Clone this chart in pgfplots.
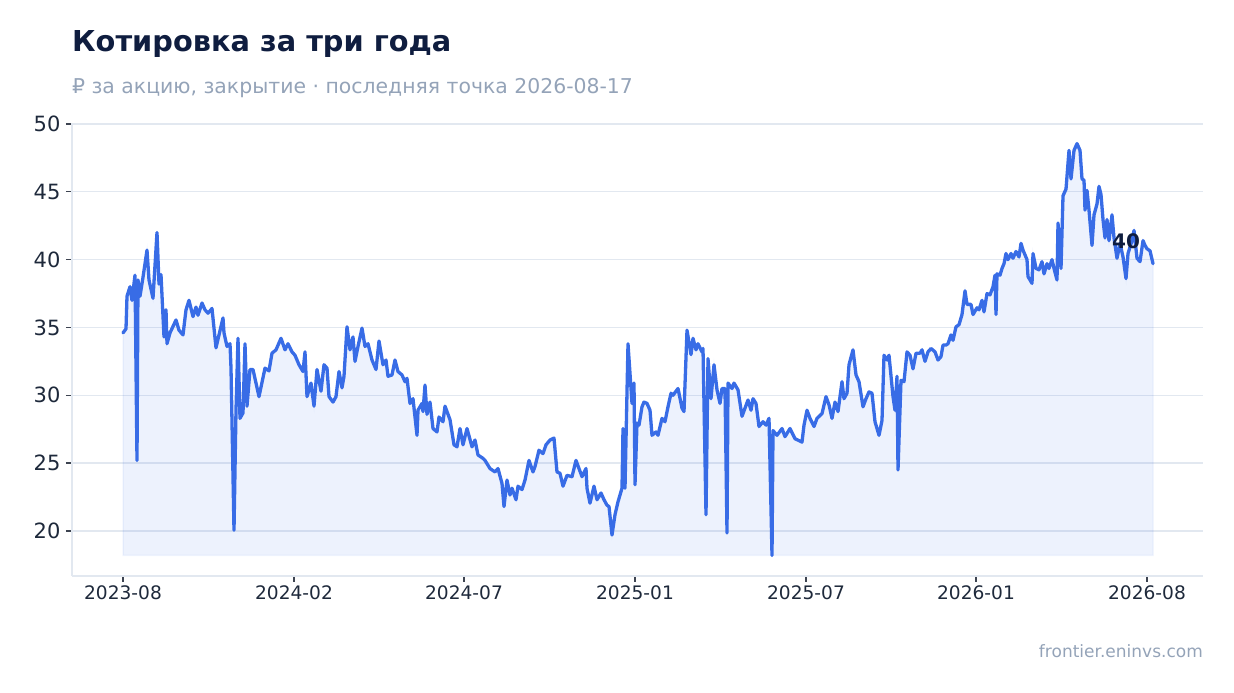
\documentclass[border=0pt]{standalone}
\usepackage{fontspec}
\setmainfont{DejaVu Sans}
\usepackage{pgfplots}
\pgfplotsset{compat=1.18}
\usepackage{pgfplotstable}

\definecolor{lineblue}{HTML}{386CE6}
\definecolor{titlec}{HTML}{0F1D3F}
\definecolor{mutedc}{HTML}{94A3B8}
\definecolor{labelc}{HTML}{1E293B}
\definecolor{gridc}{HTML}{E2E8F0}
\definecolor{tickc}{HTML}{3D4451}

% closing price; x = trading-day position along the axis
\pgfplotstableread{
x y
0 34.6
3 34.9
4 37.3
7 38.0
9 37.0
12 38.85
14 25.2
15 38.5
17 37.3
20 38.7
24 40.7
26 38.5
30 37.15
34 42.0
36 38.2
38 38.9
41 34.3
43 36.3
44 33.8
47 34.6
53 35.55
56 34.8
60 34.45
63 36.3
66 37.0
70 35.8
73 36.5
75 35.9
79 36.8
82 36.3
85 36.05
89 36.4
93 33.5
96 34.45
100 35.7
101 34.6
104 33.6
107 33.8
108 32.0
111 20.05
113 28.9
115 34.2
117 28.3
120 28.7
122 33.8
124 29.2
127 31.9
130 31.9
133 30.9
136 29.9
142 32.0
146 31.8
149 33.1
153 33.35
158 34.2
162 33.35
165 33.8
169 33.2
172 32.95
176 32.25
180 31.75
182 33.2
184 29.9
188 30.9
191 29.2
194 31.9
198 30.3
201 32.25
204 32.0
206 29.9
210 29.5
213 29.9
216 31.75
219 30.55
221 31.4
224 35.05
227 33.35
230 34.3
232 32.5
235 33.6
239 34.95
242 33.6
245 33.8
249 32.6
253 31.9
256 34.0
260 32.25
263 32.6
265 31.4
269 31.5
272 32.6
275 31.75
279 31.5
282 31.0
284 31.25
287 29.4
290 29.75
294 27.05
295 28.9
299 29.4
300 28.8
302 30.75
304 28.6
307 29.5
310 27.55
314 27.3
316 28.4
320 28.05
322 29.2
327 28.2
331 26.35
334 26.2
337 27.55
340 26.35
344 27.55
349 26.2
352 26.7
355 25.6
360 25.35
362 25.2
367 24.6
372 24.35
375 24.6
379 23.5
381 21.8
384 23.75
387 22.65
389 23.15
393 22.3
395 23.3
399 23.05
402 23.75
406 25.2
410 24.35
412 24.75
416 25.95
420 25.7
423 26.35
427 26.7
431 26.85
434 24.35
437 24.25
440 23.3
444 24.1
449 24.0
453 25.2
456 24.6
459 24.0
463 24.6
464 23.15
467 22.05
471 23.3
474 22.3
478 22.8
481 22.3
484 21.9
486 21.8
489 19.7
492 21.2
495 22.15
499 23.15
500 27.55
502 23.15
505 33.8
509 29.4
511 30.9
512 23.4
514 27.95
516 27.8
519 29.15
521 29.5
524 29.4
527 28.9
529 27.05
533 27.3
535 27.05
539 28.3
542 28.05
545 29.15
548 30.15
550 30.0
555 30.5
559 29.05
561 28.8
564 34.8
568 33.0
570 34.2
573 33.35
575 33.8
579 33.2
580 33.45
583 21.2
585 32.7
588 29.75
591 32.25
594 30.4
597 29.4
599 30.5
602 30.5
604 19.85
605 30.9
609 30.5
611 30.9
615 30.4
619 28.45
622 29.05
625 29.65
628 28.9
630 29.75
633 29.4
636 27.7
640 28.05
643 27.8
646 28.3
649 18.2
650 27.4
654 27.05
659 27.55
662 26.95
667 27.55
672 26.8
679 26.55
681 27.8
684 28.9
687 28.3
691 27.7
694 28.3
699 28.65
703 29.9
706 29.3
709 28.3
712 29.5
715 28.8
719 31.0
721 29.75
724 30.15
726 32.25
730 33.35
733 31.5
736 31.0
740 29.15
743 29.75
746 30.25
749 30.15
752 28.05
756 27.05
759 28.15
761 32.95
764 32.6
766 32.95
770 29.9
772 28.9
774 31.4
775 24.5
778 31.1
781 31.0
784 33.2
787 32.95
790 31.95
793 33.1
797 33.1
799 33.35
802 32.5
805 33.2
808 33.45
812 33.2
815 32.6
818 32.85
820 33.7
823 33.7
825 33.8
828 34.45
830 34.05
833 35.05
836 35.2
839 35.95
842 37.7
844 36.7
848 36.7
850 35.95
854 36.45
856 36.3
859 37.0
861 36.15
864 37.5
867 37.4
870 38.0
872 38.85
873 35.95
874 38.95
877 38.85
879 39.35
881 39.7
883 40.45
885 40.0
888 40.45
890 40.1
893 40.6
896 40.2
898 41.2
900 40.7
904 40.0
905 38.75
909 38.25
910 40.45
913 39.35
916 39.25
919 39.85
921 38.95
924 39.7
926 39.35
929 40.0
931 39.35
934 38.5
935 42.7
938 39.35
940 44.7
943 45.2
946 48.05
948 45.95
951 48.05
954 48.55
957 48.05
959 45.95
961 45.85
962 43.65
964 45.1
966 43.65
969 41.05
971 43.3
974 44.1
976 45.4
978 44.8
980 42.95
982 41.6
984 42.95
986 41.4
989 43.3
991 41.6
994 40.1
997 41.2
1000 40.2
1003 38.6
1005 40.45
1009 41.4
1011 42.15
1014 40.1
1017 39.85
1020 41.4
1022 41.05
1024 40.8
1027 40.65
1030 39.7
}\pricetable

\begin{document}
\begin{tikzpicture}
\useasboundingbox (0pt,0pt) rectangle (1234pt,693pt);

\node[anchor=base west, inner sep=0pt, text=titlec,
      font=\fontsize{28.8}{34}\selectfont\bfseries] at (72pt,641pt) {Котировка за три года};
\node[anchor=base west, inner sep=0pt, text=mutedc,
      font=\fontsize{20.4}{24}\selectfont] at (72pt,599pt) {₽ за акцию, закрытие · последняя точка 2026-08-17};
\node[anchor=base east, inner sep=0pt, text=mutedc,
      font=\fontsize{17}{20}\selectfont] at (1203pt,35pt) {frontier.eninvs.com};

\begin{axis}[
  at={(72pt,117pt)}, anchor=south west,
  scale only axis, width=1131pt, height=453.4pt,
  xmin=-51, xmax=1080, ymin=16.68, ymax=50.1,
  axis lines=left,
  axis line style={draw=gridc, line width=1.4pt, -},
  xtick={0,171,341,512,683,853,1024},
  xticklabels={2023-08,2024-02,2024-07,2025-01,2025-07,2026-01,2026-08},
  ytick={20,25,30,35,40,45,50},
  ymajorgrids,
  grid style={draw=gridc, line width=1.4pt},
  tick align=outside,
  major tick length=6pt,
  tick style={draw=tickc, line width=1.3pt},
  /pgf/number format/assume math mode=true,
  xticklabel style={font=\fontsize{18.6}{22}\selectfont, text=labelc},
  yticklabel style={font=\fontsize{21}{24}\selectfont, text=labelc, xshift=-2pt},
]
\addplot[fill=lineblue, fill opacity=0.09, draw=lineblue, draw opacity=0.06, line width=1.5pt]
  table[x=x, y=y] {\pricetable} -- (axis cs:1030,18.2) -- (axis cs:0,18.2) -- cycle;
\addplot[lineblue, line width=3.3pt, line join=round, line cap=round] table[x=x, y=y] {\pricetable};
\node[text=titlec, font=\fontsize{20}{24}\selectfont\bfseries, xshift=-27pt, yshift=22pt]
  at (axis cs:1030,39.7) {40};
\end{axis}
\end{tikzpicture}
\end{document}
